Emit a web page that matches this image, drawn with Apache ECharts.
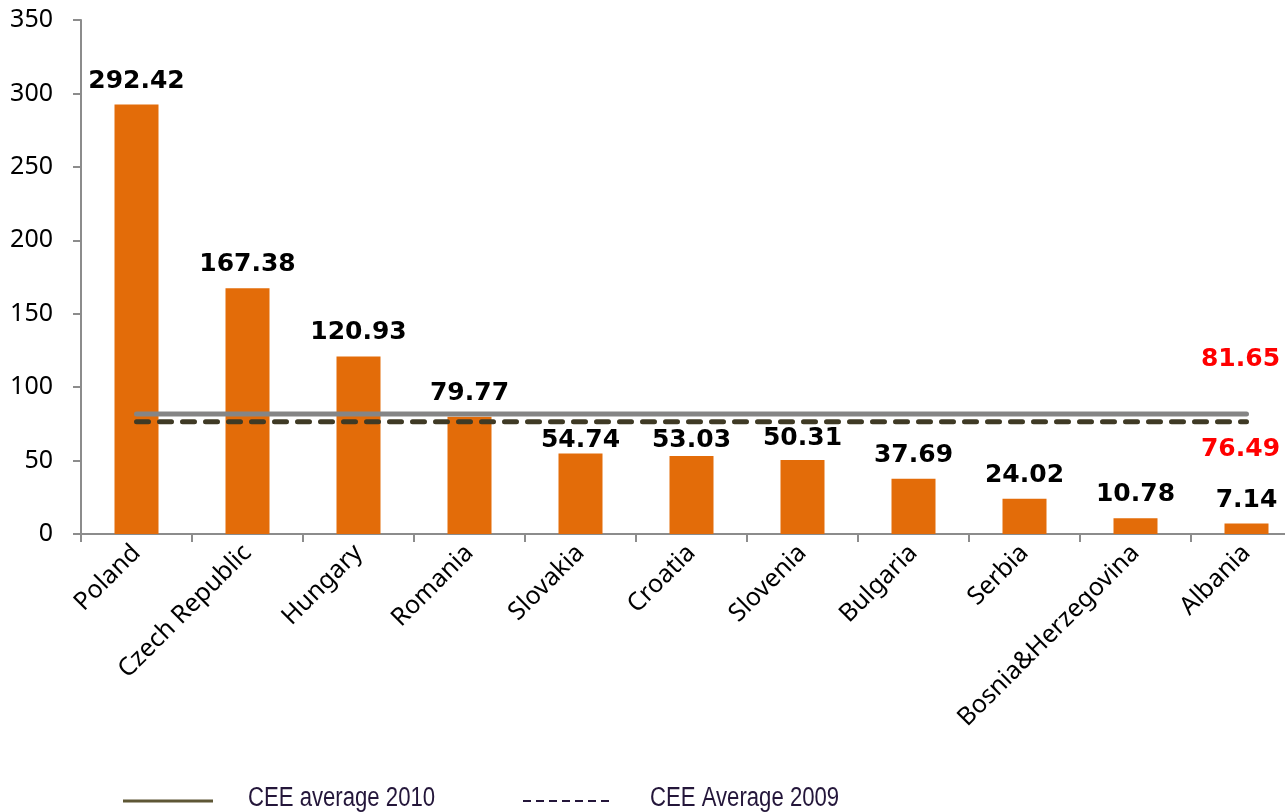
<!DOCTYPE html>
<html>
<head>
<meta charset="utf-8">
<script src="https://cdn.jsdelivr.net/npm/echarts@6/dist/echarts.min.js"></script>
<style>
    html, body { margin: 0; padding: 0; background: #fff; }
    #main { width: 1285px; height: 812px; }
</style>
</head>
<body>
<div id="main"></div>
<script>
// 数据
var countries = ['Poland', 'Czech Republic', 'Hungary', 'Romania', 'Slovakia', 'Croatia',
    'Slovenia', 'Bulgaria', 'Serbia', 'Bosnia&Herzegovina', 'Albania'];
var values = [292.42, 167.38, 120.93, 79.77, 54.74, 53.03, 50.31, 37.69, 24.02, 10.78, 7.14];
var avg2010 = 81.65;
var avg2009 = 76.49;
var legendNames = ['CEE average 2010', 'CEE Average 2009'];

// 平均线：每个类目一个点，只有最后一个点显示标签
function flat(v, labelCfg) {
    var arr = [];
    for (var i = 0; i < countries.length; i++) {
        if (i === countries.length - 1) {
            arr.push({ value: v, label: labelCfg });
        } else {
            arr.push(v);
        }
    }
    return arr;
}

// 几个标签挪低一点，避开平均线
var labelNudge = { 'Slovakia': 1, 'Croatia': 3.5, 'Slovenia': 9 };
var barData = values.map(function(v, i) {
    var d = { value: v };
    if (labelNudge[countries[i]] !== undefined) {
        d.label = { distance: labelNudge[countries[i]] };
    }
    return d;
});

var redLabel = {
    color: '#ff0000',
    fontFamily: 'DejaVu Sans',
    fontWeight: 'bold',
    fontSize: 25,
    formatter: '{c}'
};

var myChart = echarts.init(document.getElementById('main'));
var option = {
    animation: false,
    textStyle: {
        fontFamily: 'Noto Sans'
    },
    grid: {
        left: 81,
        top: 20,
        width: 1221,
        height: 514,
        outerBoundsMode: 'none',
        containLabel: false
    },
    xAxis: {
        type: 'category',
        data: countries,
        axisLine: { lineStyle: { color: '#8c8c8c', width: 2 } },
        axisTick: { show: true, length: 8, lineStyle: { color: '#8c8c8c', width: 2 } },
        axisLabel: {
            interval: 0,
            rotate: 45,
            margin: 15,
            color: '#000',
            fontFamily: 'Noto Sans',
            fontSize: 25
        }
    },
    yAxis: {
        type: 'value',
        min: 0,
        max: 350,
        interval: 50,
        splitLine: { show: false },
        axisLine: { show: true, lineStyle: { color: '#8c8c8c', width: 2 } },
        axisTick: { show: true, length: 8, lineStyle: { color: '#8c8c8c', width: 2 } },
        axisLabel: {
            margin: 28,
            color: '#000',
            fontFamily: 'Noto Sans',
            fontSize: 25
        }
    },
    series: [{
            name: 'values',
            type: 'bar',
            data: barData,
            barWidth: 44,
            itemStyle: { color: '#E36C09' },
            label: {
                show: true,
                position: 'top',
                distance: 11,
                color: '#000',
                fontFamily: 'DejaVu Sans',
                fontWeight: 'bold',
                fontSize: 25
            },
            z: 2
        },
        {
            name: legendNames[0],
            type: 'line',
            data: flat(avg2010, Object.assign({
                show: true,
                position: 'top',
                distance: 42,
                offset: [-6, 0]
            }, redLabel)),
            symbol: 'circle',
            symbolSize: 0.1,
            showSymbol: true,
            itemStyle: { color: '#858585' },
            lineStyle: { color: '#858585', width: 5, cap: 'round' },
            z: 3
        },
        {
            name: legendNames[1],
            type: 'line',
            data: flat(avg2009, Object.assign({
                show: true,
                position: 'bottom',
                distance: 15,
                offset: [-6, 0]
            }, redLabel)),
            symbol: 'circle',
            symbolSize: 0.1,
            showSymbol: true,
            itemStyle: { color: '#3f3a25' },
            lineStyle: { color: '#3f3a25', width: 5, type: [12, 11], cap: 'round' },
            z: 3
        }
    ],
    graphic: [{
            type: 'line',
            shape: { x1: 123, y1: 801, x2: 213, y2: 801 },
            style: { stroke: '#5e5735', lineWidth: 3 }
        },
        {
            type: 'text',
            x: 248,
            y: 799,
            scaleX: 0.82,
            style: {
                text: legendNames[0],
                font: '27px "Liberation Sans"',
                fill: '#24163a',
                verticalAlign: 'middle'
            }
        },
        {
            type: 'line',
            shape: { x1: 523, y1: 801, x2: 613, y2: 801 },
            style: { stroke: '#24163a', lineWidth: 2, lineDash: [8, 5] }
        },
        {
            type: 'text',
            x: 650,
            y: 799,
            scaleX: 0.82,
            style: {
                text: legendNames[1],
                font: '27px "Liberation Sans"',
                fill: '#24163a',
                verticalAlign: 'middle'
            }
        }
    ]
};

myChart.setOption(option);
</script>
</body>
</html>
